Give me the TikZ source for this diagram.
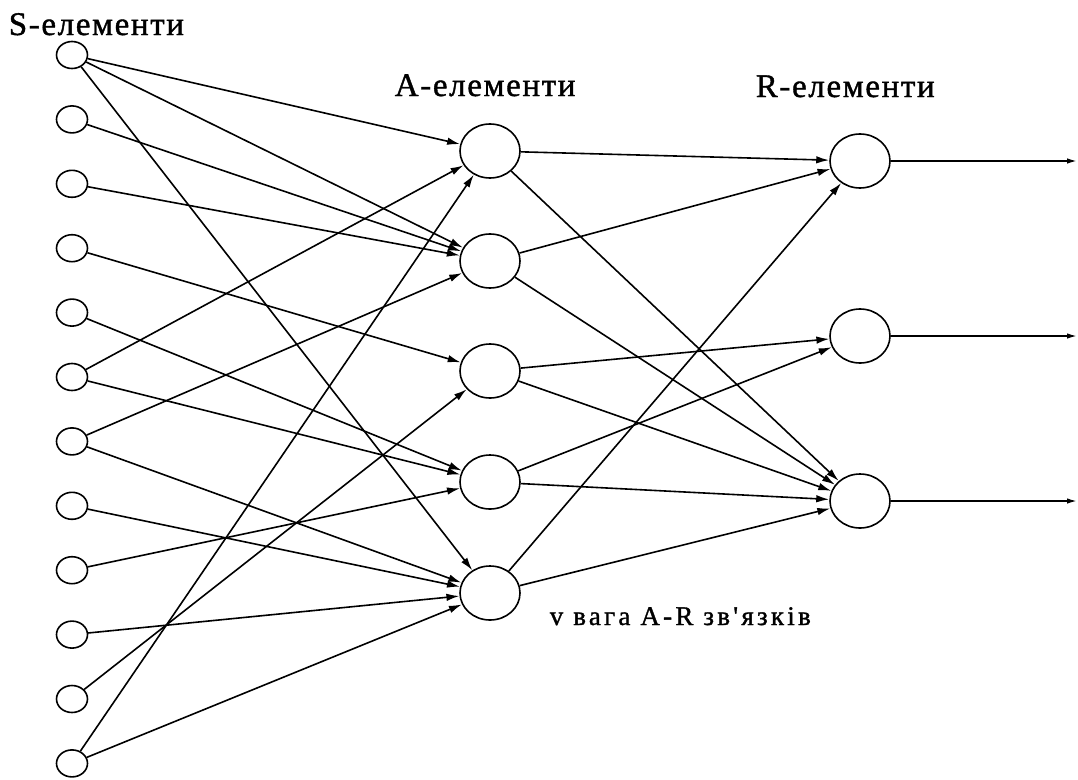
\documentclass[tikz,border=0pt]{standalone}
\usepackage{fontspec}
\setmainfont{Liberation Serif}
\newfontfamily\headfont[LetterSpace=5,FakeBold=1.2]{Liberation Serif}
\newfontfamily\notefont[LetterSpace=12,FakeBold=1.2,Ligatures=TeXOff]{Liberation Serif}
\usetikzlibrary{arrows.meta,shapes.geometric}
\begin{document}
\begin{tikzpicture}[x=1pt, y=-1pt, line width=1.6pt, line join=round, >={Latex[length=13pt,width=7.5pt]},
		selem/.style={draw, ellipse, minimum width=31pt, minimum height=27pt, inner sep=0pt},
		belem/.style={draw, ellipse, minimum width=60pt, minimum height=54pt, inner sep=0pt},
		lbl/.style={anchor=base west, inner sep=0pt}]
		\useasboundingbox (0,0) rectangle (1078,779);
		\foreach \i in {1,...,12}
			\node[selem] (S\i) at (72,{55+(\i-1)*64.4}) {};
		\foreach \i/\y in {1/151,2/261,3/371,4/482,5/593}
			\node[belem] (A\i) at (490,\y) {};
		\foreach \i/\y in {1/161,2/336,3/501}{
			\node[belem] (R\i) at (860,\y) {};
			\coordinate (O\i) at (1077,\y);
			\draw[->,>={Latex[length=10pt,width=5.5pt]}] (R\i)--(O\i);}
		\foreach \p/\q in {1/1,1/2,1/5,2/2,3/2,4/3,5/4,6/1,6/4,7/2,7/5,8/5,9/4,10/5,11/3,12/1,12/5}
			\draw[->] (S\p)--(A\q);
		\foreach \p/\q in {1/1,1/3,2/1,2/3,3/2,3/3,4/2,4/3,5/1,5/3}
			\draw[->] (A\p)--(R\q);
		\node[lbl, font=\headfont\fontsize{33}{40}\selectfont] (stitle) at (8,35) {S-елементи};
		\node[lbl, font=\headfont\fontsize{33}{40}\selectfont] (atitle) at (394,96) {A-елементи};
		\node[lbl, font=\headfont\fontsize{33}{40}\selectfont] (rtitle) at (755,97) {R-елементи};
		\node[lbl, font=\notefont\fontsize{27}{32}\selectfont] (weight) at (549,625) {v вага A-R зв'язків};
\end{tikzpicture}
\end{document}
